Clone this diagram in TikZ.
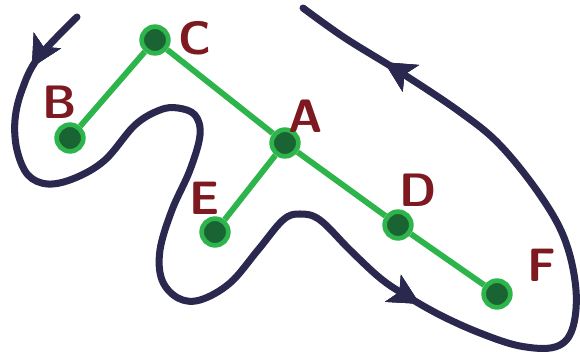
\documentclass[tikz,border=0pt]{standalone}
\usepackage{tikz}
\usetikzlibrary{positioning,arrows.meta,decorations.markings}

\definecolor{markergreen}{RGB}{45,180,75}
\definecolor{nodegreen}{RGB}{25,100,50}
\definecolor{tourblue}{RGB}{42,40,78}
\definecolor{labelred}{RGB}{125,25,32}

\tikzset{
  vertex/.style={circle, fill=nodegreen, draw=markergreen, line width=4pt,
    minimum size=0.8cm, inner sep=0pt},
  treeedge/.style={markergreen, line width=5pt},
  letter/.style={text=labelred, font=\fontsize{40}{40}\selectfont\sffamily\bfseries},
  tourtip/.style={decoration={markings,
      mark=at position #1 with {\arrow{Stealth[length=26pt, width=26pt, inset=6pt]}}},
    postaction={decorate}},
  tour/.style={tourblue, line width=6pt, line cap=round, line join=round}
}

\begin{document}
\begin{tikzpicture}[x=0.03cm, y=-0.03cm]
\useasboundingbox (0,0) rectangle (580,355);

% Tree vertices
\node[vertex] (C) at (155,40) {};
\node[vertex] (B) at (70,138) {};
\node[vertex] (A) at (285,143) {};
\node[vertex] (E) at (215,232) {};
\node[vertex] (D) at (398,225) {};
\node[vertex] (F) at (497,294) {};

% Letters next to the vertices
\node[letter] (labC) at (195,38) {C};
\node[letter] (labB) at (60,102) {B};
\node[letter] (labA) at (306,116) {A};
\node[letter] (labE) at (205,198) {E};
\node[letter] (labD) at (418,190) {D};
\node[letter] (labF) at (542,265) {F};

% Tree edges
\draw[treeedge] (C) -- (B);
\draw[treeedge] (C) -- (A);
\draw[treeedge] (A) -- (E);
\draw[treeedge] (A) -- (D);
\draw[treeedge] (D) -- (F);

% Walk around the tree
\draw[tour, tourtip=0.045, tourtip=0.59, tourtip=0.935]
  plot[smooth, tension=0.6] coordinates {
    (77,17) (38,58) (22,90) (15,120) (17,150) (28,175) (48,184) (75,178)
    (105,160) (135,125) (160,110) (178,108) (195,115) (200,135) (190,170)
    (172,210) (160,250) (162,280) (178,298) (200,300) (230,283) (258,250)
    (283,220) (300,214) (320,220) (350,250) (380,278) (405,295) (440,315)
    (480,333) (520,346) (555,347) (572,330) (576,290) (565,240) (540,195)
    (500,145) (460,112) (400,72) (345,38) (303,8)};
\end{tikzpicture}
\end{document}
